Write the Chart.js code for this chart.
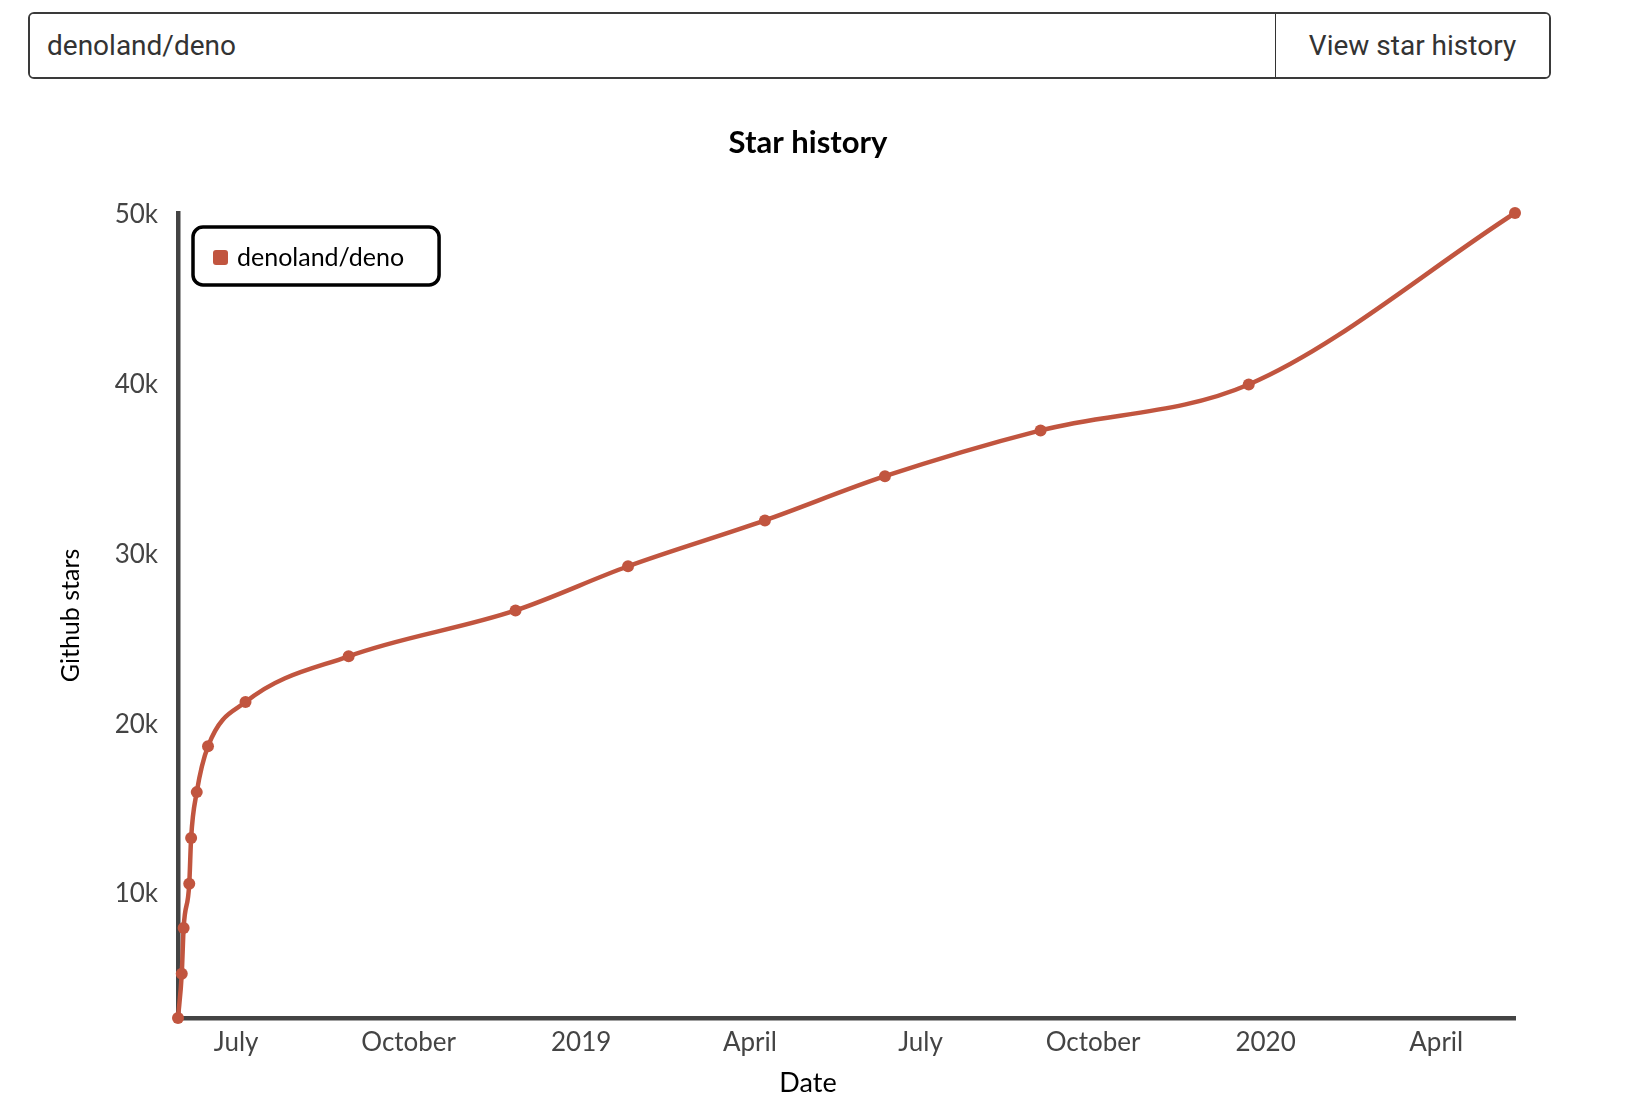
<!DOCTYPE html>
<html>
<head>
<meta charset="utf-8">
<title>Star history</title>
<script src="https://cdn.jsdelivr.net/npm/chart.js@4/dist/chart.umd.min.js"></script>
<style>
  html, body { margin: 0; background: #fff; }
  body { width: 1636px; height: 1120px; position: relative; overflow: hidden; }
  .search {
    position: absolute; left: 28px; top: 12px; width: 1519px; height: 63px;
    border: 2px solid #3a3a3a; border-radius: 6px; display: flex; overflow: hidden;
  }
  .search input {
    flex: 1; border: none; outline: none; padding: 0 0 0 17px;
    font: 28px Roboto, sans-serif; color: #333; background: #fff;
  }
  .search button {
    width: 274px; border: none; border-left: 1px solid #333; background: #fff;
    font: 28px Roboto, sans-serif; color: #333; padding: 0;
  }
  #chart { position: absolute; left: 0; top: 90px; }
</style>
</head>
<body>
<div class="search">
  <input type="text" value="denoland/deno">
  <button>View star history</button>
</div>
<canvas id="chart" width="1616" height="1030"></canvas>
<script>
// star-history 샘플 (페이지 단위 샘플링 + 마지막은 현재 스타 수)
const REPO = 'denoland/deno';
const DATES = [
  '2018-05-31', '2018-06-02', '2018-06-03', '2018-06-06', '2018-06-07', '2018-06-10',
  '2018-06-16', '2018-07-06', '2018-08-30', '2018-11-27', '2019-01-26', '2019-04-09',
  '2019-06-12', '2019-09-03', '2019-12-23', '2020-05-13',
];
const STARS = [
  2700, 5300, 8000, 10600, 13300, 16000,
  18700, 21300, 24000, 26700, 29300, 32000,
  34600, 37300, 40000, 50100,
];
const X_TICK_DATES = ['2018-07-01', '2018-10-01', '2019-01-01', '2019-04-01', '2019-07-01', '2019-10-01', '2020-01-01', '2020-04-01'];
const X_TICK_LABELS = ['July', 'October', '2019', 'April', 'July', 'October', '2020', 'April'];
const Y_TICKS = [10000, 20000, 30000, 40000, 50000];
const Y_TICK_LABELS = ['10k', '20k', '30k', '40k', '50k'];

const TITLE = 'Star history';
const X_TITLE = 'Date';
const Y_TITLE = 'Github stars';

const FONT = 'Lato, "Open Sans", sans-serif';
const LINE_COLOR = '#c1553f';
const AXIS_COLOR = '#444';

const day = (s) => Date.parse(s);

// 제목/축 이름은 캔버스 가운데, 범례는 플롯 안 좌상단에 테두리 박스로
const xkcdExtras = {
  id: 'xkcdExtras',
  afterDraw(chart) {
    const { ctx, width, chartArea } = chart;
    const ds = chart.data.datasets[0];
    ctx.save();
    ctx.fillStyle = '#000';
    ctx.textAlign = 'center';
    ctx.textBaseline = 'middle';
    ctx.font = `bold 31px ${FONT}`;
    ctx.fillText(TITLE, width / 2, chartArea.top - 70);
    ctx.font = `27px ${FONT}`;
    ctx.fillText(X_TITLE, width / 2, chartArea.bottom + 65);

    // legend
    const x0 = chartArea.left, y0 = chartArea.top;
    ctx.font = `25px ${FONT}`;
    const tw = ctx.measureText(ds.label).width;
    ctx.beginPath();
    ctx.roundRect(x0 + 15, y0 + 14, 44 + tw + 35, 58, 10);
    ctx.fillStyle = '#fff';
    ctx.fill();
    ctx.strokeStyle = '#000';
    ctx.lineWidth = 3.5;
    ctx.stroke();
    ctx.beginPath();
    ctx.roundRect(x0 + 35, y0 + 37, 15, 15, 3);
    ctx.fillStyle = ds.backgroundColor;
    ctx.fill();
    ctx.fillStyle = '#000';
    ctx.textAlign = 'left';
    ctx.fillText(ds.label, x0 + 59, y0 + 45);
    ctx.restore();
  },
};

new Chart(document.getElementById('chart'), {
  type: 'line',
  data: {
    datasets: [{
      label: REPO,
      data: DATES.map((d, i) => ({ x: day(d), y: STARS[i] })),
      borderColor: LINE_COLOR,
      backgroundColor: LINE_COLOR,
      borderWidth: 4.5,
      pointRadius: 6,
      pointBorderWidth: 0,
      pointBackgroundColor: LINE_COLOR,
      cubicInterpolationMode: 'monotone',
      clip: 10,
    }],
  },
  options: {
    responsive: false,
    animation: false,
    devicePixelRatio: 1,
    layout: { padding: { left: 0, right: 101, top: 123, bottom: 22 } },
    plugins: {
      title: { display: false },
      tooltip: { enabled: false },
      legend: { display: false },
    },
    scales: {
      x: {
        type: 'linear',
        min: day(DATES[0]),
        max: day(DATES[DATES.length - 1]),
        afterBuildTicks: (s) => { s.ticks = X_TICK_DATES.map((d) => ({ value: day(d) })); },
        afterFit: (s) => { s.height = 80; },
        grid: { display: false, drawTicks: false },
        border: { display: true, color: AXIS_COLOR, width: 4.5 },
        ticks: {
          autoSkip: false,
          maxRotation: 0,
          padding: 9,
          color: AXIS_COLOR,
          font: { family: FONT, size: 26 },
          callback: (v, i) => X_TICK_LABELS[i],
        },
      },
      y: {
        min: STARS[0],
        max: STARS[STARS.length - 1],
        afterBuildTicks: (s) => { s.ticks = Y_TICKS.map((v) => ({ value: v })); },
        afterFit: (s) => { s.width = 178; },
        grid: { display: false, drawTicks: false },
        border: { display: true, color: AXIS_COLOR, width: 4.5 },
        title: {
          display: true,
          text: Y_TITLE,
          color: '#000',
          font: { family: FONT, size: 25 },
          padding: { top: 56 },
        },
        ticks: {
          padding: 20,
          color: AXIS_COLOR,
          font: { family: FONT, size: 26 },
          callback: (v, i) => Y_TICK_LABELS[i],
        },
      },
    },
  },
  plugins: [xkcdExtras],
});
</script>
</body>
</html>
